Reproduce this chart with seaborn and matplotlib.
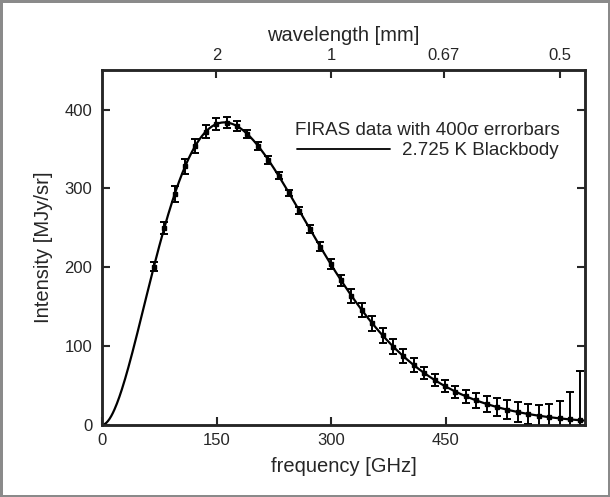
import numpy as np
import pandas as pd
import matplotlib
matplotlib.use("Agg")
import matplotlib.pyplot as plt
import seaborn as sns
from matplotlib.lines import Line2D

# FIRAS monopole spectrum (frequency in GHz, intensity in MJy/sr, sigma in kJy/sr)
freq_ghz = [68.05, 81.54, 95.33, 108.82, 122.31, 136.10, 149.60, 163.39, 176.88,
            190.37, 204.16, 217.65, 231.14, 244.93, 258.42, 272.21, 285.70, 299.19,
            312.98, 326.47, 339.96, 353.75, 367.24, 381.03, 394.52, 408.01, 421.80,
            435.30, 448.79, 462.58, 476.07, 489.86, 503.35, 516.84, 530.63, 544.12,
            557.91, 571.40, 584.89, 598.68, 612.17, 625.66]
intensity = [200.723, 249.508, 293.024, 327.770, 354.081, 372.079, 381.493, 383.478,
             378.901, 368.833, 354.063, 336.278, 316.076, 293.924, 271.432, 248.239,
             225.940, 204.327, 183.262, 163.830, 145.750, 128.835, 113.568, 99.451,
             87.036, 75.876, 65.766, 57.008, 49.223, 42.267, 36.352, 31.062, 26.580,
             22.644, 19.255, 16.391, 13.811, 11.716, 9.921, 8.364, 7.087, 5.801]
sigma_kjy = [14, 19, 25, 23, 22, 21, 18, 18, 16, 14, 13, 12, 11, 10, 11, 12, 14, 16,
             18, 22, 22, 23, 23, 23, 22, 21, 20, 19, 19, 19, 21, 23, 26, 28, 30, 32,
             33, 35, 41, 55, 88, 155]
error_scale = 400  # errorbars are 400 sigma

x_ticks = [0, 150, 300, 450]
y_ticks = [0, 100, 200, 300, 400]
wavelength_ticks_mm = [2, 1, 0.67, 0.5]
wavelength_labels = ["2", "1", "0.67", "0.5"]

T_cmb = 2.725  # K

# Planck blackbody curve
h, k, c = 6.62607e-34, 1.380649e-23, 2.99792458e8
nu = np.linspace(0.5, 640, 600) * 1e9
bb = 2 * h * nu**3 / c**2 / np.expm1(h * nu / (k * T_cmb)) * 1e20
curve = pd.DataFrame({"freq": nu / 1e9, "I": bb})
data = pd.DataFrame({"freq": freq_ghz, "I": intensity,
                     "err": np.array(sigma_kjy) * error_scale / 1000.0})

sns.set_style("ticks")
plt.rcParams["font.family"] = ["Liberation Sans", "DejaVu Sans"]

TICK_FS = 12
LABEL_FS = 14.5

fig = plt.figure(figsize=(6.10, 4.97), dpi=100)
fig.patch.set_edgecolor("#8a8a8a")
fig.patch.set_linewidth(2.5)
ax = fig.add_axes([0.167, 0.145, 0.792, 0.714])

sns.lineplot(data=curve, x="freq", y="I", ax=ax, color="black", lw=1.6)
ax.errorbar(data["freq"], data["I"], yerr=data["err"], fmt="s", color="black",
            ms=3.4, capsize=3.2, elinewidth=1.4, capthick=1.4, zorder=3)

ax.set_xlim(0, 632)
ax.set_ylim(0, 450)
ax.set_xticks(x_ticks)
ax.set_yticks(y_ticks)
ax.set_xlabel("frequency [GHz]", fontsize=LABEL_FS, labelpad=6)
ax.set_ylabel("Intensity [MJy/sr]", fontsize=LABEL_FS, labelpad=8)
ax.tick_params(direction="in", length=6, width=1.5, right=True, labelsize=TICK_FS)
ax.tick_params(axis="y", pad=7)
ax.tick_params(axis="x", pad=6)
ax.yaxis.set_ticks_position("both")
for s in ax.spines.values():
    s.set_linewidth(1.8)
    s.set_visible(True)

ax2 = ax.twiny()
ax2.set_xlim(ax.get_xlim())
ax2.set_xticks([299.792458 / w for w in wavelength_ticks_mm])
ax2.set_xticklabels(wavelength_labels)
ax2.tick_params(direction="in", length=6, width=1.5, labelsize=TICK_FS, pad=5)
ax2.set_xlabel("wavelength [mm]", fontsize=LABEL_FS, labelpad=5)
for s in ax2.spines.values():
    s.set_linewidth(1.8)

handle = Line2D([], [], color="black", lw=1.3)
leg = ax.legend([handle], ["2.725 K Blackbody"], title="FIRAS data with 400σ errorbars",
                loc="upper right", bbox_to_anchor=(0.948, 0.855), frameon=False,
                fontsize=13.5, title_fontsize=13.5, handlelength=5.0,
                handletextpad=0.6, borderaxespad=0, borderpad=0, labelspacing=0.2)

fig.savefig("out.png", dpi=100, edgecolor=fig.get_edgecolor())
